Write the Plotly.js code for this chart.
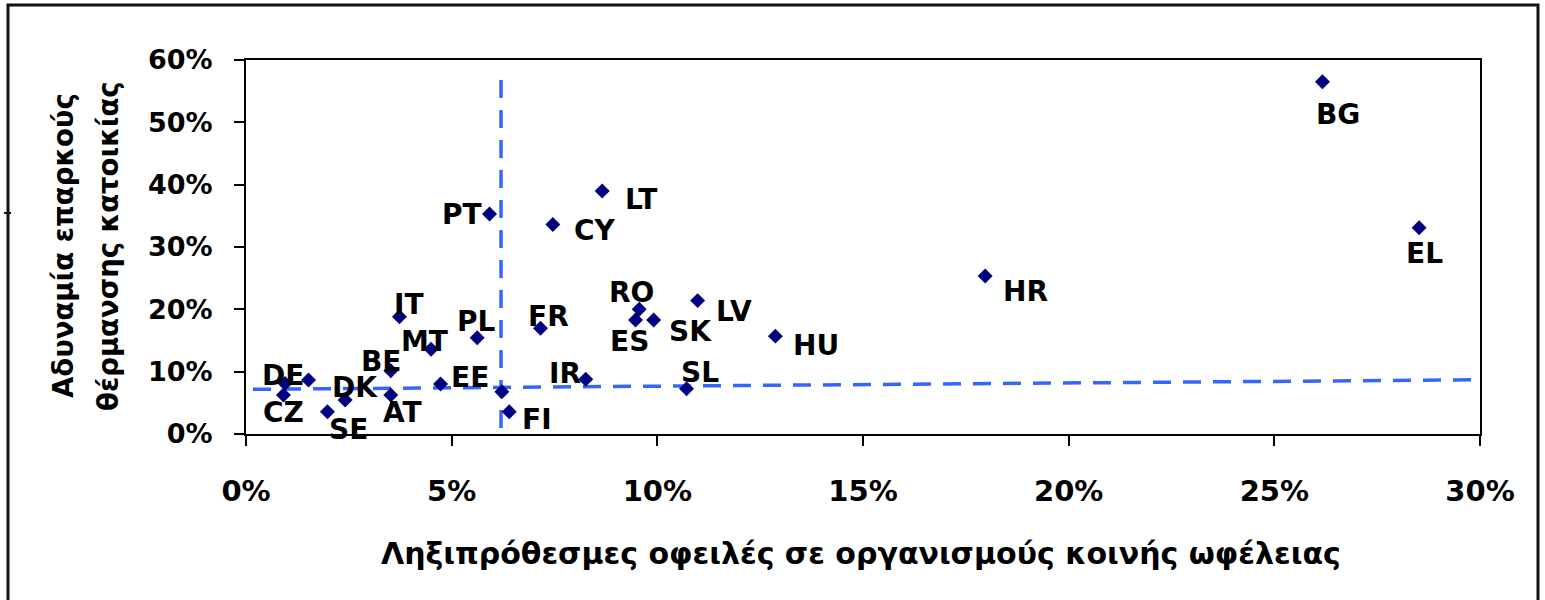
<!DOCTYPE html>
<html>
<head>
<meta charset="utf-8">
<script src="https://cdn.plot.ly/plotly-3.0.1.min.js"></script>
<style>html,body{margin:0;padding:0;background:#fff;}#chart{width:1545px;height:600px;}</style>
</head>
<body>
<div id="chart"></div>
<script>
// Data (percent)
const countries = ["BG","EL","HR","HU","LV","RO","ES","SK","FR","IR","SL","LT","CY","PT","IT","PL","MT","DE","","CZ","SE","DK","BE","AT","EE","","FI"];
const arrears   = [26.17,28.52,17.97,12.87,10.98,9.56,9.47,9.91,7.16,8.26,10.71,8.66,7.46,5.92,3.73,5.62,4.50,1.52,0.95,0.91,1.98,2.41,3.52,3.52,4.73,6.22,6.40];
const heating   = [56.5,33.1,25.35,15.7,21.4,20.0,18.3,18.3,16.95,8.77,7.27,39.0,33.6,35.3,18.8,15.45,13.6,8.66,8.1,6.26,3.58,5.45,10.16,6.26,8.02,6.79,3.58];
const vLineX = [6.2, 6.2];
const vLineY = [0.96, 58.1];
const trendX = [0.17, 30];
const trendY = [7.17, 8.70];
const xTicks = [0,5,10,15,20,25,30];
const yTicks = [0,10,20,30,40,50,60];
const xTitle = "Ληξιπρόθεσμες οφειλές σε οργανισμούς κοινής ωφέλειας";
const yTitleLines = ["Αδυναμία επαρκούς", "θέρμανσης κατοικίας"];

// label offsets in pixels (dx right, dy down) — layout only
const labelOffsets = [[16,33],[5,26],[40,16],[41,9],[36,11],[-8,-17],[-6,22],[37,12],[8,-12],[-21,-6],[13,-16],[39,9],[42,6],[-28,1],[10,-12],[-1,-16],[-7,-8],[-26,-5],[0,0],[0,18],[21,18],[10,-13],[-10,-9],[12,18],[29,-7],[0,0],[28,8]];

const FONT = "DejaVu Sans, Arial, sans-serif";
const dashStyle = {color:"#3366FF", width:3.5, dash:"18px,12px"};

const traces = [
  {x: trendX, y: trendY, mode:"lines", line: dashStyle, hoverinfo:"skip", showlegend:false, cliponaxis:false},
  {x: vLineX, y: vLineY, mode:"lines", line: dashStyle, hoverinfo:"skip", showlegend:false, cliponaxis:false},
  {x: arrears, y: heating, text: countries, mode:"markers", type:"scatter",
   marker:{symbol:"diamond", size:11.5, color:"#000080"}, showlegend:false, cliponaxis:false}
];

const annotations = countries.map((c,i)=>({
  x: arrears[i], y: heating[i], xref:"x", yref:"y", text: c, showarrow:false,
  xshift: labelOffsets[i][0], yshift: -labelOffsets[i][1],
  font:{family:FONT, size:28, color:"#000", weight:"bold"}
})).filter(a=>a.text!=="");

annotations.push({xref:"paper", yref:"paper", x:(861-246)/1234, y:(434-553)/374, text:xTitle, showarrow:false,
  xanchor:"center", yanchor:"middle", font:{family:FONT, size:30, color:"#000", weight:"bold"}});
annotations.push({xref:"paper", yref:"paper", x:(63-246)/1234, y:(434-246)/374, text:yTitleLines[0], showarrow:false, textangle:-90,
  xanchor:"center", yanchor:"middle", font:{family:FONT, size:27.5, color:"#000", weight:"bold"}});
annotations.push({xref:"paper", yref:"paper", x:(108-246)/1234, y:(434-246)/374, text:yTitleLines[1], showarrow:false, textangle:-90,
  xanchor:"center", yanchor:"middle", font:{family:FONT, size:27.5, color:"#000", weight:"bold"}});

const layout = {
  width:1545, height:600,
  margin:{l:246, r:65, t:60, b:166, pad:0},
  paper_bgcolor:"#fff", plot_bgcolor:"#fff",
  showlegend:false,
  xaxis:{range:[0,30], tickvals:xTicks, ticktext:xTicks.map(v=>v+"%"), showgrid:false, zeroline:false,
    showline:true, linecolor:"#000", linewidth:2, mirror:true, ticks:"outside", ticklen:10, tickwidth:2, tickcolor:"#000",
    ticklabelstandoff:20, tickfont:{family:FONT, size:29, color:"#000", weight:"bold"}},
  yaxis:{range:[0,60], tickvals:yTicks, ticktext:yTicks.map(v=>v+"%"), showgrid:false, zeroline:false,
    showline:true, linecolor:"#000", linewidth:2, mirror:true, ticks:"outside", ticklen:10, tickwidth:2, tickcolor:"#000",
    ticklabelstandoff:16, tickfont:{family:FONT, size:27, color:"#000", weight:"bold"}},
  annotations: annotations,
  shapes:[
    {type:"rect", xref:"paper", yref:"paper", x0:(8-246)/1234, x1:(1538-246)/1234, y0:-0.6, y1:(434-5)/374,
     line:{color:"#111", width:3}, layer:"below"},
    {type:"line", xref:"paper", yref:"paper", x0:(4-246)/1234, x1:(11-246)/1234, y0:(434-213)/374, y1:(434-213)/374,
     line:{color:"#111", width:2}}
  ]
};

Plotly.newPlot("chart", traces, layout, {displayModeBar:false, staticPlot:true});
</script>
</body>
</html>
